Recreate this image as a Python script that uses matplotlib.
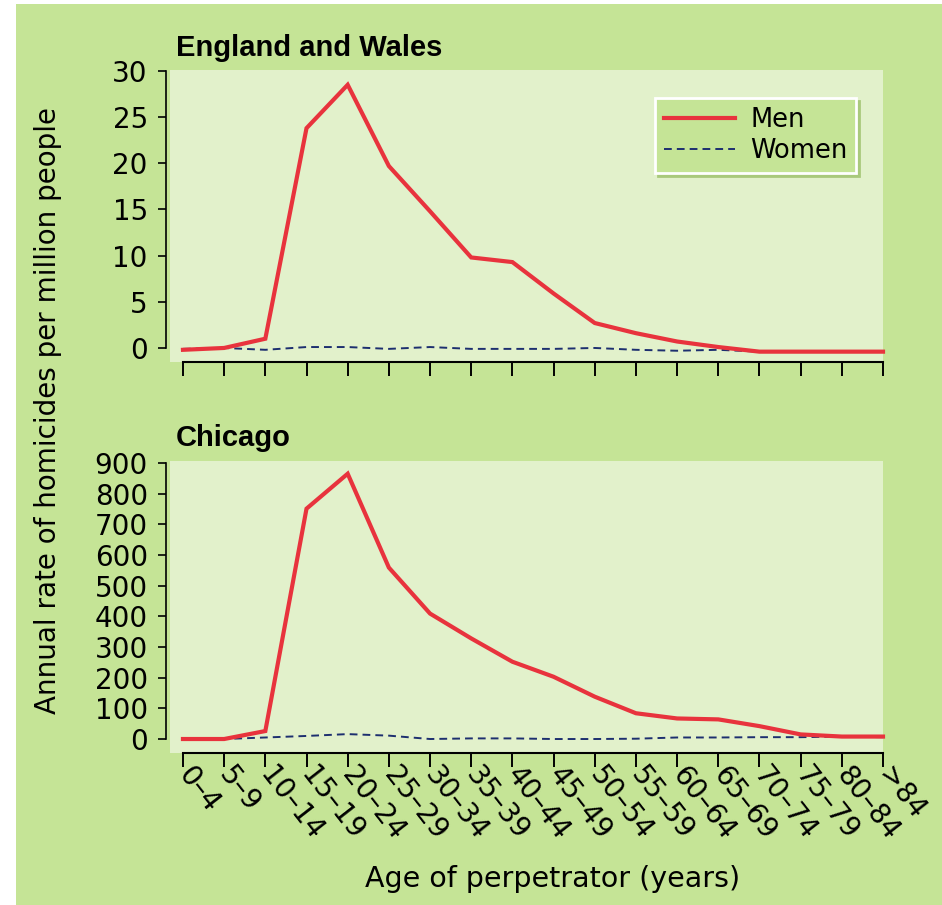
import matplotlib
matplotlib.use("Agg")
import matplotlib.pyplot as plt
from matplotlib.patches import Rectangle

# ---- data ----
age_groups = ["0–4", "5–9", "10–14", "15–19", "20–24", "25–29", "30–34", "35–39",
              "40–44", "45–49", "50–54", "55–59", "60–64", "65–69", "70–74",
              "75–79", "80–84", ">84"]
ew_men = [-0.2, 0.0, 1.0, 23.8, 28.5, 19.7, 14.8, 9.8, 9.3, 5.9, 2.7, 1.6, 0.7, 0.1,
          -0.4, -0.4, -0.4, -0.4]
ew_women = [-0.1, 0.0, -0.2, 0.1, 0.1, -0.1, 0.1, -0.1, -0.1, -0.1, 0.0, -0.2, -0.3,
            -0.2, -0.4, -0.4, -0.4, -0.4]
chi_men = [0, 0, 26, 751, 865, 559, 409, 328, 252, 203, 138, 84, 67, 64, 42, 15, 8, 8]
chi_women = [0, 0, 5, 10, 16, 11, 0, 2, 2, 0, 0, 1, 5, 5, 6, 6, 8, 6]
ew_ticks = [0, 5, 10, 15, 20, 25, 30]
chi_ticks = [0, 100, 200, 300, 400, 500, 600, 700, 800, 900]
panel_titles = ["England and Wales", "Chicago"]
series_labels = ["Men", "Women"]

OUTER = "#c5e496"
INNER = "#e2f1cb"
RED = "#e8333d"
NAVY = "#1d2f6f"

W, H = 942, 905
fig = plt.figure(figsize=(W / 100, H / 100), dpi=100, facecolor="white")
fig.patches.append(Rectangle((16 / W, 0), 1 - 16 / W, 1 - 4 / H, transform=fig.transFigure,
                             facecolor=OUTER, edgecolor="none", zorder=-10))

x = list(range(len(age_groups)))

def setup(ax, ylim, yticks):
    ax.set_facecolor(INNER)
    ax.set_xlim(-0.315, 17.0)
    ax.set_ylim(*ylim)
    for s in ["top", "right"]:
        ax.spines[s].set_visible(False)
    ax.spines["left"].set_position(("outward", 3))
    ax.spines["left"].set_bounds(yticks[0], yticks[-1])
    ax.spines["left"].set_linewidth(1.2)
    ax.spines["bottom"].set_bounds(0, len(age_groups) - 1)
    ax.spines["bottom"].set_linewidth(1.5)
    ax.set_yticks(yticks)
    ax.set_xticks(x)
    ax.tick_params(axis="y", direction="out", length=6, width=1.2, pad=7,
                   labelsize=20, labelcolor="black")
    ax.tick_params(axis="x", direction="out", length=10, width=1.4)
    for lab in ax.get_yticklabels():
        lab.set_fontfamily("DejaVu Sans")

ax1 = fig.add_axes([170 / W, 1 - 362 / H, 713 / W, 292 / H])
setup(ax1, (-1.52, 30.1), ew_ticks)
l1, = ax1.plot(x, ew_men, color=RED, lw=3.0, solid_joinstyle="miter", clip_on=False,
               label=series_labels[0], zorder=3)
l2, = ax1.plot(x, ew_women, color=NAVY, lw=1.4, dashes=(4, 2.6), clip_on=False,
               label=series_labels[1], zorder=2)
ax1.set_xticklabels([])

ax2 = fig.add_axes([170 / W, 1 - 753 / H, 713 / W, 292 / H])
setup(ax2, (-45.6, 906.5), chi_ticks)
ax2.plot(x, chi_men, color=RED, lw=3.0, solid_joinstyle="miter", clip_on=False, zorder=3)
ax2.plot(x, chi_women, color=NAVY, lw=1.4, dashes=(4, 2.6), clip_on=False, zorder=2)
ax2.set_xticklabels(age_groups, rotation=-52, ha="left", va="center",
                    rotation_mode="anchor", fontsize=20, family="DejaVu Sans")
ax2.tick_params(axis="x", pad=2)

leg = ax1.legend(handles=[l1, l2], loc="upper left",
                 bbox_to_anchor=(655 / W, 1 - 98 / H), bbox_transform=fig.transFigure,
                 borderaxespad=0, frameon=True, fancybox=False,
                 prop={"family": "DejaVu Sans", "size": 18.5},
                 handlelength=2.75, handletextpad=0.6, labelspacing=0.2,
                 borderpad=0.35,
                 shadow={"color": "#a9c97c", "alpha": 1.0})
fr = leg.get_frame()
fr.set_facecolor(OUTER)
fr.set_edgecolor("white")
fr.set_linewidth(2)
fr.set_alpha(1)

fig.text(176 / W, 1 - 56 / H, panel_titles[0], ha="left", va="baseline",
         fontsize=21, fontweight="bold", family="Liberation Sans")
fig.text(176 / W, 1 - 446 / H, panel_titles[1], ha="left", va="baseline",
         fontsize=21, fontweight="bold", family="Liberation Sans")

fig.text(48 / W, 1 - 411 / H, "Annual rate of homicides per million people",
         rotation=90, ha="center", va="center", fontsize=20, family="DejaVu Sans")
fig.text(553 / W, 1 - 887 / H, "Age of perpetrator (years)", ha="center",
         va="baseline", fontsize=20.5, family="DejaVu Sans")

fig.savefig("out.png", dpi=100, facecolor=fig.get_facecolor())
